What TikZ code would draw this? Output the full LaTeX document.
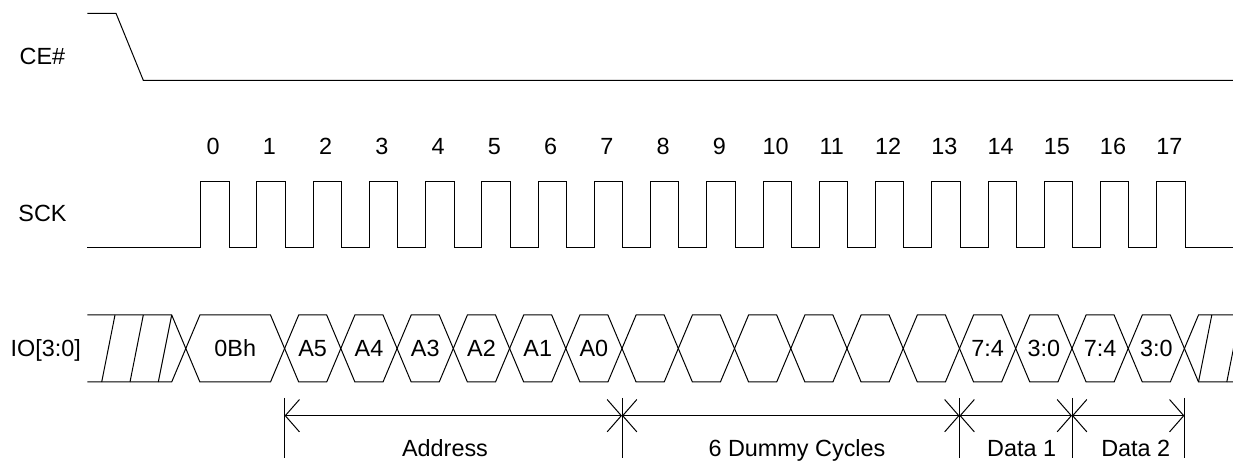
\documentclass[tikz,border=0pt]{standalone}
\usepackage{fontspec}
\setmainfont{Liberation Sans}
\usetikzlibrary{arrows.meta}
\tikzset{
  sig/.style={black,line width=0.5pt},
  txt/.style={font=\fontsize{11.7}{14}\selectfont,anchor=base,inner sep=0pt},
  dimarr/.style={black,line width=0.5pt,{Straight Barb[length=7.1pt,width=16.2pt]}-{Straight Barb[length=7.1pt,width=16.2pt]}}
}
\begin{document}
\begin{tikzpicture}[x=0.5pt,y=-0.5pt]
\clip (0,0) rectangle (1233,464);
\fill [white] (0,0) rectangle (1233,464);
\node [txt] (ce) at (42.5,65) {CE\#};
\node [txt] (sck) at (42.5,221.5) {SCK};
\node [txt] (io) at (45.8,356.5) {IO[3:0]};
\draw [sig] (87.3,13.3) -- (116,13.3) -- (143.3,80.3) -- (1233,80.3);
\draw [sig] (87.3,247.5) -- (200.7,247.5)
  |- (229.0,181.5) |- (256.9,247.5) |- (285.2,181.5) |- (313.2,247.5)
  |- (341.5,181.5) |- (369.4,247.5) |- (397.7,181.5) |- (425.7,247.5)
  |- (454.0,181.5) |- (481.9,247.5) |- (510.2,181.5) |- (538.1,247.5)
  |- (566.4,181.5) |- (594.4,247.5) |- (622.7,181.5) |- (650.6,247.5)
  |- (678.9,181.5) |- (706.9,247.5) |- (735.2,181.5) |- (763.1,247.5)
  |- (791.4,181.5) |- (819.3,247.5) |- (847.6,181.5) |- (875.6,247.5)
  |- (903.9,181.5) |- (931.8,247.5) |- (960.1,181.5) |- (988.1,247.5)
  |- (1016.4,181.5) |- (1044.3,247.5) |- (1072.6,181.5) |- (1100.5,247.5)
  |- (1128.8,181.5) |- (1156.8,247.5) |- (1185.1,181.5) |- (1233,247.5);
\node [txt] (n0) at (213.2,155) {0};
\node [txt] (n1) at (269.4,155) {1};
\node [txt] (n2) at (325.7,155) {2};
\node [txt] (n3) at (381.9,155) {3};
\node [txt] (n4) at (438.2,155) {4};
\node [txt] (n5) at (494.4,155) {5};
\node [txt] (n6) at (550.6,155) {6};
\node [txt] (n7) at (606.9,155) {7};
\node [txt] (n8) at (663.1,155) {8};
\node [txt] (n9) at (719.4,155) {9};
\node [txt] (n10) at (775.6,155) {10};
\node [txt] (n11) at (831.8,155) {11};
\node [txt] (n12) at (888.1,155) {12};
\node [txt] (n13) at (944.3,155) {13};
\node [txt] (n14) at (1000.6,155) {14};
\node [txt] (n15) at (1056.8,155) {15};
\node [txt] (n16) at (1113.0,155) {16};
\node [txt] (n17) at (1169.3,155) {17};
\draw [sig] (87.3,315) -- (171.7,315) -- (185.8,348.5) -- (171.7,382) -- (87.3,382);
\draw [sig] (101.7,382) -- (115,315);
\draw [sig] (130,382) -- (143.3,315);
\draw [sig] (158.3,382) -- (171.7,315);
\draw [sig] (185.8,348.5) -- (199.9,315) -- (270.5,315) -- (284.6,348.5) -- (270.5,382) -- (199.9,382) -- cycle;
\draw [sig] (284.6,348.5) -- (298.7,315) -- (326.7,315) -- (340.8,348.5) -- (326.7,382) -- (298.7,382) -- cycle;
\draw [sig] (340.8,348.5) -- (354.9,315) -- (383.0,315) -- (397.1,348.5) -- (383.0,382) -- (354.9,382) -- cycle;
\draw [sig] (397.1,348.5) -- (411.2,315) -- (439.2,315) -- (453.3,348.5) -- (439.2,382) -- (411.2,382) -- cycle;
\draw [sig] (453.3,348.5) -- (467.4,315) -- (495.5,315) -- (509.6,348.5) -- (495.5,382) -- (467.4,382) -- cycle;
\draw [sig] (509.6,348.5) -- (523.7,315) -- (551.7,315) -- (565.8,348.5) -- (551.7,382) -- (523.7,382) -- cycle;
\draw [sig] (565.8,348.5) -- (579.9,315) -- (607.9,315) -- (622.0,348.5) -- (607.9,382) -- (579.9,382) -- cycle;
\draw [sig] (622.0,348.5) -- (636.1,315) -- (664.2,315) -- (678.3,348.5) -- (664.2,382) -- (636.1,382) -- cycle;
\draw [sig] (678.3,348.5) -- (692.4,315) -- (720.4,315) -- (734.5,348.5) -- (720.4,382) -- (692.4,382) -- cycle;
\draw [sig] (734.5,348.5) -- (748.6,315) -- (776.7,315) -- (790.8,348.5) -- (776.7,382) -- (748.6,382) -- cycle;
\draw [sig] (790.8,348.5) -- (804.9,315) -- (832.9,315) -- (847.0,348.5) -- (832.9,382) -- (804.9,382) -- cycle;
\draw [sig] (847.0,348.5) -- (861.1,315) -- (889.1,315) -- (903.2,348.5) -- (889.1,382) -- (861.1,382) -- cycle;
\draw [sig] (903.2,348.5) -- (917.3,315) -- (945.4,315) -- (959.5,348.5) -- (945.4,382) -- (917.3,382) -- cycle;
\draw [sig] (959.5,348.5) -- (973.6,315) -- (1001.6,315) -- (1015.7,348.5) -- (1001.6,382) -- (973.6,382) -- cycle;
\draw [sig] (1015.7,348.5) -- (1029.8,315) -- (1057.9,315) -- (1072.0,348.5) -- (1057.9,382) -- (1029.8,382) -- cycle;
\draw [sig] (1072.0,348.5) -- (1086.1,315) -- (1114.1,315) -- (1128.2,348.5) -- (1114.1,382) -- (1086.1,382) -- cycle;
\draw [sig] (1128.2,348.5) -- (1142.3,315) -- (1170.3,315) -- (1184.4,348.5) -- (1170.3,382) -- (1142.3,382) -- cycle;
\draw [sig] (1240,315) -- (1198.5,315) -- (1184.4,348.5) -- (1198.5,382) -- (1240,382);
\draw [sig] (1198.5,382) -- (1211.8,315);
\draw [sig] (1226.8,382) -- (1240.1,315);
\node [txt] (cmd) at (235.2,356.5) {0Bh};
\node [txt] (a5) at (312.7,356.5) {A5};
\node [txt] (a4) at (369.0,356.5) {A4};
\node [txt] (a3) at (425.2,356.5) {A3};
\node [txt] (a2) at (481.5,356.5) {A2};
\node [txt] (a1) at (537.7,356.5) {A1};
\node [txt] (a0) at (593.9,356.5) {A0};
\node [txt] (d1h) at (987.6,356.5) {7:4};
\node [txt] (d1l) at (1043.9,356.5) {3:0};
\node [txt] (d2h) at (1100.1,356.5) {7:4};
\node [txt] (d2l) at (1156.3,356.5) {3:0};
\coordinate (m0) at (284.6,415.7);
\coordinate (m1) at (622.0,415.7);
\coordinate (m2) at (959.5,415.7);
\coordinate (m3) at (1072.0,415.7);
\coordinate (m4) at (1184.4,415.7);
\draw [sig] (m0) ++(0,-17.7) -- ++(0,60);
\draw [sig] (m1) ++(0,-17.7) -- ++(0,60);
\draw [sig] (m2) ++(0,-17.7) -- ++(0,60);
\draw [sig] (m3) ++(0,-17.7) -- ++(0,60);
\draw [sig] (m4) ++(0,-17.7) -- ++(0,60);
\draw [dimarr] (m0) -- (m1);
\draw [dimarr] (m1) -- (m2);
\draw [dimarr] (m2) -- (m3);
\draw [dimarr] (m3) -- (m4);
\node [txt] (addr) at (445,456.5) {Address};
\node [txt] (dummy) at (797,456.5) {6 Dummy Cycles};
\node [txt] (data1) at (1021.7,456.5) {Data 1};
\node [txt] (data2) at (1135.8,456.5) {Data 2};
\end{tikzpicture}
\end{document}
